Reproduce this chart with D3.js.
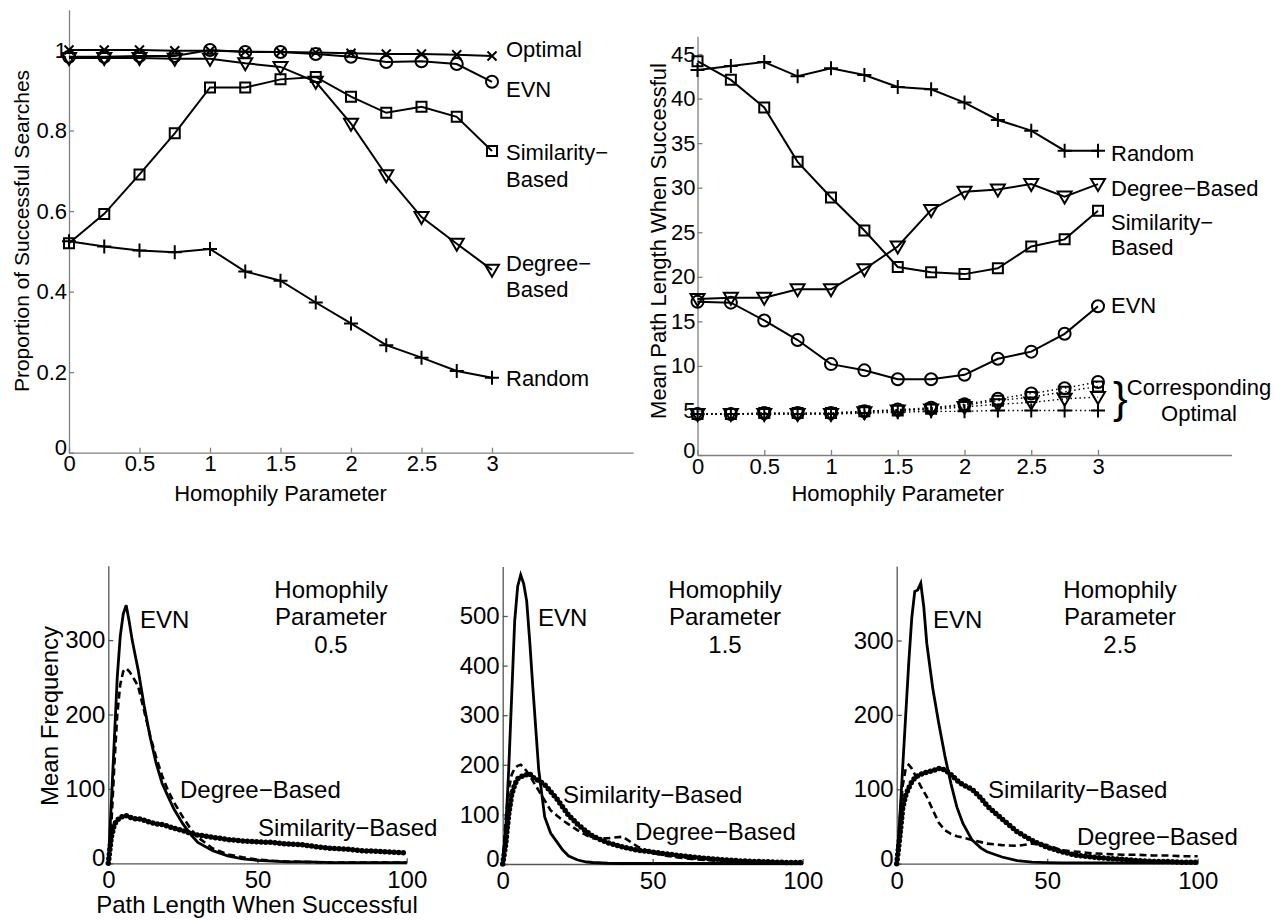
<!DOCTYPE html>
<html>
<head>
<meta charset="utf-8">
<script src="https://cdnjs.cloudflare.com/ajax/libs/d3/7.8.5/d3.min.js"></script>
<style>
body { margin: 0; background: #fff; }
</style>
</head>
<body>
<script>
// homophily parameter values (x of the two top panels)
const homophily = [0, 0.25, 0.5, 0.75, 1, 1.25, 1.5, 1.75, 2, 2.25, 2.5, 2.75, 3];

// proportion of successful searches
const propOptimal    = [1.0, 1.0, 1.0, 0.998, 0.998, 0.996, 0.995, 0.994, 0.992, 0.99, 0.99, 0.988, 0.985];
const propEVN        = [0.983, 0.983, 0.985, 0.985, 1.0, 0.995, 0.995, 0.99, 0.983, 0.97, 0.972, 0.965, 0.921];
const propSimilarity = [0.52, 0.593, 0.691, 0.793, 0.907, 0.907, 0.927, 0.933, 0.884, 0.844, 0.859, 0.834, 0.749];
const propDegree     = [0.98, 0.98, 0.98, 0.978, 0.978, 0.967, 0.958, 0.921, 0.817, 0.689, 0.585, 0.519, 0.454];
const propRandom     = [0.525, 0.512, 0.502, 0.498, 0.506, 0.45, 0.427, 0.373, 0.321, 0.267, 0.236, 0.203, 0.186];

// mean path length when successful
const lenRandom     = [43.2, 43.65, 44.1, 42.5, 43.4, 42.65, 41.3, 41.05, 39.55, 37.6, 36.4, 34.15, 34.15];
const lenSimilarity = [44.2, 42.1, 39.0, 32.9, 28.9, 25.2, 21.1, 20.5, 20.3, 20.95, 23.4, 24.2, 27.4];
const lenDegree     = [17.5, 17.65, 17.65, 18.6, 18.6, 20.85, 23.4, 27.5, 29.55, 29.8, 30.4, 29.0, 30.4];
const lenEVN        = [17.2, 17.1, 15.1, 12.9, 10.2, 9.5, 8.5, 8.5, 9.0, 10.8, 11.6, 13.6, 16.7];
// corresponding optimal path lengths
const optRandom     = [4.6, 4.6, 4.6, 4.6, 4.6, 4.7, 4.8, 4.9, 4.9, 5.0, 5.0, 5.0, 5.0];
const optDegree     = [4.6, 4.6, 4.6, 4.6, 4.6, 4.8, 5.0, 5.1, 5.4, 5.7, 5.9, 6.3, 6.5];
const optSimilarity = [4.6, 4.6, 4.7, 4.7, 4.7, 4.9, 5.0, 5.2, 5.6, 6.1, 6.5, 7.1, 7.7];
const optEVN        = [4.6, 4.6, 4.7, 4.7, 4.7, 4.9, 5.1, 5.3, 5.7, 6.3, 6.9, 7.5, 8.2];

// path length histograms (bottom panels)
const pathLength = [0, 1, 2, 3, 4, 5, 6, 7, 8, 9, 10, 12, 14, 16, 18, 20, 22, 25, 28, 30,
                    35, 40, 45, 50, 55, 60, 65, 70, 75, 80, 85, 90, 95, 100];

const freq05EVN        = [0, 80, 165, 250, 305, 335, 347, 325, 300, 280, 260, 212, 170, 135, 108, 90, 73, 53, 37, 28,
                          17, 10, 6, 4, 3, 2, 2, 1.5, 1, 1, 1, 1, 1, 1];
const freq05Degree     = [0, 50, 130, 200, 240, 258, 262, 258, 252, 245, 238, 205, 172, 143, 118, 98, 82, 62, 44, 35,
                          20, 12, 8, 5, 3.5, 2.5, 2, 1.5, 1, 1, 1, 1, 1, 1];
const freq05Similarity = [0, 35, 52, 58, 62, 63, 64, 62, 61, 60, 60, 58, 55, 53, 52, 50, 47, 44, 40, 38,
                          35, 32, 30, 29, 28, 26, 25, 22, 20, 19, 17, 16, 15, 14];

const freq15EVN        = [0, 70, 190, 340, 490, 560, 583, 565, 530, 450, 360, 190, 95, 62, 45, 28, 16, 8, 4, 3,
                          1.5, 1, 1, 1, 1, 1, 1, 1, 1, 1, 1, 1, 1, 1];
const freq15Degree     = [0, 90, 150, 180, 193, 198, 200, 195, 187, 178, 168, 148, 128, 108, 98, 88, 80, 68, 58, 52,
                          52, 55, 35, 22, 16, 12, 9, 7, 5, 4, 3, 3, 2, 2];
const freq15Similarity = [0, 40, 100, 140, 160, 172, 176, 178, 180, 182, 175, 168, 160, 146, 132, 115, 98, 80, 65, 56,
                          43, 34, 28, 24, 20, 16, 13, 10, 8, 6, 5, 4, 3, 3];

const freq25EVN        = [0, 60, 130, 200, 270, 330, 366, 368, 377, 345, 296, 235, 188, 145, 108, 76, 54, 32, 21, 16,
                          9, 4, 2, 1.5, 1, 1, 1, 1, 1, 1, 1, 1, 1, 1];
const freq25Degree     = [0, 60, 105, 128, 133, 128, 120, 112, 104, 97, 90, 72, 55, 45, 40, 37, 35, 32, 29, 27,
                          25, 24, 27, 25, 18, 16, 14, 13, 12, 12, 11, 11, 10, 10];
const freq25Similarity = [0, 35, 75, 92, 102, 110, 115, 118, 120, 122, 123, 125, 128, 126, 120, 112, 106, 100, 88, 78,
                          60, 43, 31, 22, 16, 11, 9, 7, 6, 4, 3, 3, 2, 2];

const font = '"Liberation Sans", Arial, Helvetica, sans-serif';

const svg = d3.select("body").append("svg")
    .attr("width", 1283)
    .attr("height", 921);

// matlab style axes: ticks pointing inwards, no box
function drawAxes(xs, ys, xticks, yticks, size, color, padX, padY) {
    const gx = svg.append("g")
        .attr("transform", "translate(0," + ys.range()[0] + ")")
        .call(d3.axisBottom(xs).tickValues(xticks).tickSizeInner(-5).tickSizeOuter(0)
            .tickPadding(padX).tickFormat(d3.format("~g")));
    const gy = svg.append("g")
        .attr("transform", "translate(" + xs.range()[0] + ",0)")
        .call(d3.axisLeft(ys).tickValues(yticks).tickSizeInner(-5).tickSizeOuter(0)
            .tickPadding(padY).tickFormat(d3.format("~g")));
    [gx, gy].forEach(g => {
        g.attr("font-family", font).attr("font-size", size);
        g.select(".domain").attr("stroke", color).attr("stroke-width", 1.3);
        g.selectAll(".tick line").attr("stroke", color).attr("stroke-width", 1.3);
        g.selectAll(".tick text").attr("fill", "#000");
    });
    // the zero of the y axis sits just above the corner, like the original
    gy.selectAll(".tick text").filter(d => d === 0).attr("dy", "0.1em");
}

function markerPath(type) {
    switch (type) {
        case "plus":   return "M-7,0H7M0,-7V7";
        case "cross":  return "M-4.5,-4.5L4.5,4.5M-4.5,4.5L4.5,-4.5";
        case "circle": return "M6,0A6,6 0 1,1 -6,0A6,6 0 1,1 6,0Z";
        case "square": return "M-5,-5H5V5H-5Z";
        case "tri":    return "M-7,-5H7L0,7Z";
    }
}

function drawSeries(xs, ys, xv, yv, marker, dash) {
    const pts = xv.map((d, i) => [d, yv[i]]);
    const line = d3.line().x(d => xs(d[0])).y(d => ys(d[1]));
    svg.append("path")
        .datum(pts)
        .attr("d", line)
        .attr("fill", "none")
        .attr("stroke", "#000")
        .attr("stroke-width", dash ? 1.4 : 2)
        .attr("stroke-dasharray", dash ? "1.5,3" : null);
    svg.append("g").selectAll("path")
        .data(pts)
        .enter()
        .append("path")
        .attr("transform", d => "translate(" + xs(d[0]) + "," + ys(d[1]) + ")")
        .attr("d", markerPath(marker))
        .attr("fill", "none")
        .attr("stroke", "#000")
        .attr("stroke-width", 2);
}

function label(x, y, txt, size, anchor) {
    svg.append("text")
        .attr("x", x)
        .attr("y", y)
        .attr("dy", "0.35em")
        .attr("text-anchor", anchor || "start")
        .attr("font-family", font)
        .attr("font-size", size)
        .attr("fill", "#000")
        .text(txt);
}

function vlabel(x, y, txt, size) {
    svg.append("text")
        .attr("transform", "translate(" + x + "," + y + ") rotate(-90)")
        .attr("dy", "0.35em")
        .attr("text-anchor", "middle")
        .attr("font-family", font)
        .attr("font-size", size)
        .attr("fill", "#000")
        .text(txt);
}

// ---------- top left: proportion of successful searches
const x1 = d3.scaleLinear().domain([0, 4]).range([69, 633]);
const y1 = d3.scaleLinear().domain([0, 1.1]).range([452.7, 9.7]);
const homTicks = [0, 0.5, 1, 1.5, 2, 2.5, 3];
drawAxes(x1, y1, homTicks, [0, 0.2, 0.4, 0.6, 0.8, 1], 22, "#808080", 3, 2);

drawSeries(x1, y1, homophily, propRandom, "plus");
drawSeries(x1, y1, homophily, propSimilarity, "square");
drawSeries(x1, y1, homophily, propDegree, "tri");
drawSeries(x1, y1, homophily, propEVN, "circle");
drawSeries(x1, y1, homophily, propOptimal, "cross");

label(506, 49, "Optimal", 22);
label(506, 89, "EVN", 22);
label(506, 152, "Similarity\u2212", 22);
label(506, 179, "Based", 22);
label(506, 263, "Degree\u2212", 22);
label(506, 289, "Based", 22);
label(506, 378, "Random", 22);

vlabel(22, 231, "Proportion of Successful Searches", 21);
label(x1(1.5), 493, "Homophily Parameter", 22, "middle");

// ---------- top right: mean path length when successful
const x2 = d3.scaleLinear().domain([0, 4]).range([697.5, 1231.5]);
const y2 = d3.scaleLinear().domain([0, 47]).range([455, 36.2]);
drawAxes(x2, y2, homTicks, [0, 5, 10, 15, 20, 25, 30, 35, 40, 45], 22, "#808080", 3, 2);

drawSeries(x2, y2, homophily, optRandom, "plus", true);
drawSeries(x2, y2, homophily, optDegree, "tri", true);
drawSeries(x2, y2, homophily, optSimilarity, "square", true);
drawSeries(x2, y2, homophily, optEVN, "circle", true);
drawSeries(x2, y2, homophily, lenRandom, "plus");
drawSeries(x2, y2, homophily, lenSimilarity, "square");
drawSeries(x2, y2, homophily, lenDegree, "tri");
drawSeries(x2, y2, homophily, lenEVN, "circle");

label(1111, 153, "Random", 22);
label(1111, 188, "Degree\u2212Based", 22);
label(1111, 222, "Similarity\u2212", 22);
label(1111, 247, "Based", 22);
label(1111, 305, "EVN", 22);
svg.append("text")
    .attr("x", 1113).attr("y", 413)
    .attr("font-family", font).attr("font-size", 44)
    .attr("fill", "#000")
    .text("}");
label(1199, 387, "Corresponding", 22, "middle");
label(1199, 413, "Optimal", 22, "middle");

vlabel(658, 241, "Mean Path Length When Successful", 22);
label(x2(1.5), 493, "Homophily Parameter", 22, "middle");

// ---------- bottom: histograms of path length
const panels = [
    { param: "0.5", evn: freq05EVN, degree: freq05Degree, sim: freq05Similarity,
      left: 108.3, right: 406.7, base: 863.3, top: 565.7, ymax: 400, yticks: [0, 100, 200, 300],
      evnAt: [140, 620], degAt: [180, 790], simAt: [258, 828], paramX: 331 },
    { param: "1.5", evn: freq15EVN, degree: freq15Degree, sim: freq15Similarity,
      left: 502.7, right: 802.7, base: 864, top: 566.4, ymax: 600, yticks: [0, 100, 200, 300, 400, 500],
      evnAt: [538, 618], degAt: [635, 832], simAt: [563, 795], paramX: 725 },
    { param: "2.5", evn: freq25EVN, degree: freq25Degree, sim: freq25Similarity,
      left: 896.7, right: 1197.7, base: 863.7, top: 566.1, ymax: 400, yticks: [0, 100, 200, 300],
      evnAt: [933, 620], degAt: [1077, 837], simAt: [988, 790], paramX: 1120 }
];

panels.forEach(p => {
    const xs = d3.scaleLinear().domain([0, 100]).range([p.left, p.right]);
    const ys = d3.scaleLinear().domain([0, p.ymax]).range([p.base, p.top]);
    drawAxes(xs, ys, [0, 50, 100], p.yticks, 24, "#555", 8, 3);

    const line = d3.line().x((d, i) => xs(pathLength[i])).y(d => ys(d));
    svg.append("path").datum(p.sim).attr("d", line)
        .attr("fill", "none").attr("stroke", "#000")
        .attr("stroke-width", 5.5).attr("stroke-linecap", "round")
        .attr("stroke-dasharray", "0,4.6");
    svg.append("path").datum(p.degree).attr("d", line)
        .attr("fill", "none").attr("stroke", "#000")
        .attr("stroke-width", 2.6).attr("stroke-dasharray", "7,4");
    svg.append("path").datum(p.evn).attr("d", line)
        .attr("fill", "none").attr("stroke", "#000")
        .attr("stroke-width", 2.8);

    label(p.evnAt[0], p.evnAt[1], "EVN", 24);
    label(p.degAt[0], p.degAt[1], "Degree\u2212Based", 24);
    label(p.simAt[0], p.simAt[1], "Similarity\u2212Based", 24);
    label(p.paramX, 590, "Homophily", 24, "middle");
    label(p.paramX, 617, "Parameter", 24, "middle");
    label(p.paramX, 645, p.param, 24, "middle");
});

vlabel(50, 716, "Mean Frequency", 24);
label(257, 905, "Path Length When Successful", 24, "middle");
</script>
</body>
</html>
